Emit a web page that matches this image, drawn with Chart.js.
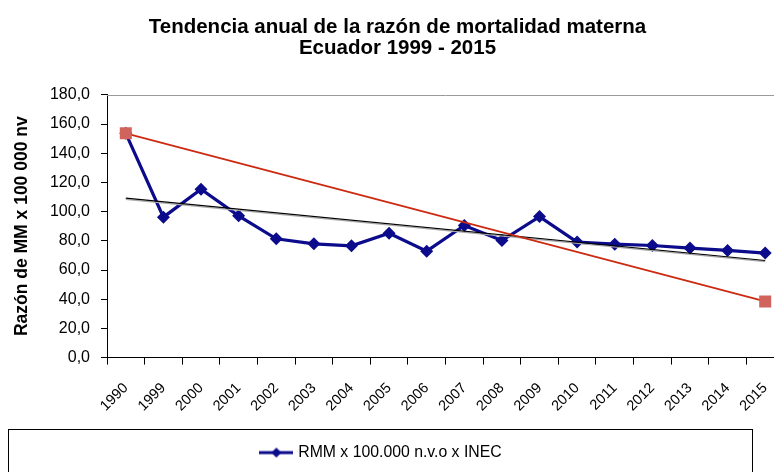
<!DOCTYPE html>
<html><head><meta charset="utf-8">
<script src="https://cdn.jsdelivr.net/npm/chart.js@4.4.1/dist/chart.umd.min.js"></script>
<style>html,body{margin:0;padding:0;overflow:hidden;background:#fff;width:774px;height:472px}canvas{display:block}</style>
</head><body>
<canvas id="c" width="800" height="472"></canvas>
<script>
const categories = ['1990','1999','2000','2001','2002','2003','2004','2005','2006','2007','2008','2009','2010','2011','2012','2013','2014','2015'];
const rmmValues = [153.6, 96.2, 115.3, 97.1, 81.4, 77.9, 76.6, 85.2, 72.9, 90.5, 80.2, 96.6, 79.1, 77.7, 76.8, 75.0, 73.4, 71.6];
const redTrendEnds = [153.6, 38.5];     // 1990 and 2015
const blackTrendEnds = [109.2, 66.5];   // 1990 and 2015
const titleLines = ['Tendencia anual de la razón de mortalidad materna', 'Ecuador 1999 - 2015'];
const yAxisTitle = 'Razón de MM x 100 000 nv';
const seriesLabel = 'RMM x 100.000 n.v.o x INEC';

function endsToSeries(ends) {
  const arr = categories.map(() => null);
  arr[0] = ends[0];
  arr[arr.length - 1] = ends[1];
  return arr;
}

const NAVY = '#0b0b8c';
Chart.defaults.font.family = "'Liberation Sans', Arial, sans-serif";
Chart.defaults.color = '#000';

// legend sample: line with diamond
const legendImg = document.createElement('canvas');
legendImg.width = 34; legendImg.height = 12;
(function () {
  const g = legendImg.getContext('2d');
  g.strokeStyle = NAVY; g.lineWidth = 3;
  g.beginPath(); g.moveTo(0, 6); g.lineTo(34, 6); g.stroke();
  g.fillStyle = NAVY;
  g.beginPath(); g.moveTo(17, 1); g.lineTo(22, 6); g.lineTo(17, 11); g.lineTo(12, 6); g.closePath(); g.fill();
})();

const decor = {
  id: 'decor',
  afterLayout(chart) {
    const dxT = 5.5, dxL = -10;
    chart.titleBlock.left += dxT; chart.titleBlock.right += dxT;
    chart.legend.left += dxL; chart.legend.right += dxL;
  },
  beforeDatasetsDraw(chart) {
    const {ctx, chartArea} = chart;
    ctx.save();
    ctx.strokeStyle = '#9a9a9a'; ctx.lineWidth = 1;
    ctx.beginPath();
    ctx.moveTo(chartArea.left, Math.round(chartArea.top) + 0.5);
    ctx.lineTo(chartArea.right, Math.round(chartArea.top) + 0.5);
    ctx.stroke();
    ctx.restore();
  },
  afterDraw(chart) {
    const {ctx} = chart;
    ctx.save();
    ctx.strokeStyle = '#000'; ctx.lineWidth = 1;
    ctx.strokeRect(8.5, 429.5, 744, 80);
    ctx.restore();
  }
};

new Chart(document.getElementById('c'), {
  type: 'line',
  data: {
    labels: categories,
    datasets: [
      {
        label: 'Tendencia 1990-2015',
        data: endsToSeries(redTrendEnds),
        spanGaps: true,
        borderColor: '#cc2a10', borderWidth: 1.6,
        pointStyle: 'rect', pointRadius: 8.5,
        pointBackgroundColor: '#d0645c', pointBorderColor: '#d0645c', pointBorderWidth: 0,
        order: 0
      },
      {
        label: 'Tendencia lineal sombra',
        data: endsToSeries([blackTrendEnds[0] - 0.8, blackTrendEnds[1] - 0.8]),
        spanGaps: true,
        borderColor: '#a8a8a8', borderWidth: 1.2, pointRadius: 0,
        order: 2
      },
      {
        label: 'Tendencia lineal',
        data: endsToSeries(blackTrendEnds),
        spanGaps: true,
        borderColor: '#000', borderWidth: 1.2, pointRadius: 0,
        order: 1
      },
      {
        label: seriesLabel,
        data: rmmValues,
        borderColor: NAVY, borderWidth: 3.2,
        pointStyle: 'rectRot', pointRadius: 6.5,
        pointBackgroundColor: NAVY, pointBorderColor: NAVY, pointBorderWidth: 0,
        tension: 0,
        order: 3
      }
    ]
  },
  options: {
    responsive: false,
    animation: false,
    layout: { padding: { left: 0, right: 16, top: 0, bottom: 1.5 } },
    plugins: {
      tooltip: { enabled: false },
      title: {
        display: true,
        text: titleLines,
        color: '#000',
        font: { size: 20.5, weight: 'bold', lineHeight: 1.02 },
        padding: { top: 16.5, bottom: 36.5 }
      },
      legend: {
        display: true,
        position: 'bottom',
        labels: {
          filter: (item) => item.text === seriesLabel,
          usePointStyle: true,
          pointStyle: legendImg,
          pointStyleWidth: 28,
          color: '#000',
          font: { size: 15.8 },
          padding: 16.1,
          generateLabels: (chart) => {
            const items = Chart.defaults.plugins.legend.labels.generateLabels(chart);
            items.forEach(it => { it.pointStyle = legendImg; });
            return items;
          }
        }
      }
    },
    scales: {
      x: {
        offset: true,
        grid: { drawOnChartArea: false, color: '#000', tickLength: 7, offset: true },
        border: { color: '#000', width: 1 },
        ticks: { minRotation: 45, maxRotation: 45, autoSkip: false, padding: 15, font: { size: 14.5 }, color: '#000' },
        afterFit: (s) => { s.height = 71; }
      },
      y: {
        min: 0, max: 180,
        grid: { drawOnChartArea: false, color: '#000', tickLength: 6 },
        border: { color: '#000', width: 1 },
        ticks: {
          stepSize: 20, padding: 11, font: { size: 16 }, color: '#000',
          callback: (v) => Number(v).toFixed(1).replace('.', ',')
        },
        title: {
          display: true, text: yAxisTitle, color: '#000',
          font: { size: 17.5, weight: 'bold' },
          padding: { top: 11.5, bottom: 0 }
        },
        afterFit: (s) => { s.width = 107; }
      }
    }
  },
  plugins: [decor]
});
</script>
</body></html>
